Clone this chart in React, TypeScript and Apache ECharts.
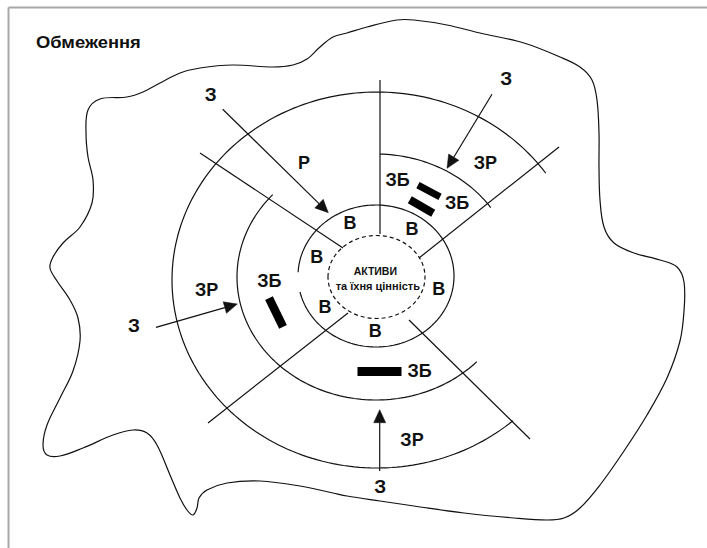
import React, { useEffect, useRef } from "react";
import * as echarts from "echarts";

const W = 707;
const H = 548;
const INK = "#111111";
const FONT = "'Liberation Sans', Arial, sans-serif";

// Ring geometry: [cx, cy, rx, ry]
const dashedRing = [376.5, 277, 48.5, 41.5];
const innerRing = [376, 276, 78, 71];
const middleRing = [376, 277, 139, 123];
const outerRing = [377, 280, 205, 188];

// Arc spans in degrees (screen, clockwise)
const innerArcs = [[183, 527]];
const middleArcs = [[-88.4, -34.4], [43.5, 222]];
const outerArcs = [[48.5, 325.4]];

// Radial dividing lines [x1, y1, x2, y2]
const radialLines = [
  [380, 80, 380, 234],
  [200, 153, 343, 248],
  [559, 147, 419, 258],
  [208, 423, 348, 313],
  [409, 320, 530, 439],
];

// Threat arrows [fromX, fromY, tipX, tipY]
const arrows = [
  [222.7, 109.3, 328.3, 212.7],
  [492, 94.3, 447, 168.3],
  [156, 327.3, 237.3, 304],
  [379.7, 471, 379.7, 409.7],
];

// Labels [text, x, y]
const threatLabels = [
  ["З", 210.7, 94],
  ["З", 506.3, 78.3],
  ["З", 134, 325.3],
  ["З", 380.3, 486.3],
];
const riskLabels = [
  ["Р", 304, 162.7],
  ["ЗР", 485.3, 162.7],
  ["ЗР", 206.7, 289.7],
  ["ЗР", 412, 439.7],
];
const weakLabels = [
  ["ЗБ", 397.5, 180],
  ["ЗБ", 457, 202.5],
  ["ЗБ", 269.3, 281.3],
  ["ЗБ", 419.5, 370.5],
];
const vulnLabels = [
  ["В", 350, 223.3],
  ["В", 316.7, 256.7],
  ["В", 412, 229.3],
  ["В", 438.7, 288.7],
  ["В", 375.3, 331.3],
  ["В", 325, 306.5],
];
const assetLines = [
  ["АКТИВИ", 375.3, 270.7],
  ["та їхня цінність", 377.8, 286],
];
const titleText = "Обмеження";

// Safeguard bars [cx, cy, length, thickness, angleDeg]
const bars = [
  [429, 191, 25, 7, 28],
  [421.5, 206.5, 27, 8, 30],
  [276, 312.5, 32, 8.5, 64],
  [379.5, 371.5, 44, 9, 0],
];

// Boundary blob outline
const blob = [
  [347, 33], [367, 27], [397, 20], [414, 20], [447, 25], [480, 33], [524, 43],
  [560, 57], [580, 67], [592, 80], [597, 100], [599, 133], [599, 167], [600, 200],
  [604, 227], [614, 243], [634, 253], [660, 260], [677, 267], [684, 282],
  [684, 311], [680, 341], [667, 378], [647, 415], [624, 451], [600, 485],
  [580, 508], [564, 518], [547, 520], [514, 518], [464, 513], [414, 506],
  [380, 501], [347, 496], [333, 493], [300, 486], [260, 481], [227, 483],
  [207, 490], [199, 498], [197, 508], [193, 515], [187, 510], [180, 498],
  [170, 475], [157, 445], [147, 433], [133, 430], [113, 435], [83, 448],
  [60, 456], [47, 455], [43, 445], [47, 425], [60, 398], [73, 371], [80, 341],
  [78, 318], [70, 300], [57, 281], [50, 268], [53, 257], [63, 243], [80, 227],
  [92, 203], [93, 180], [88, 157], [86, 133], [88, 110], [100, 99], [127, 97],
  [143, 92], [160, 83], [180, 73], [200, 68], [233, 65], [273, 67], [293, 65],
  [307, 59], [320, 47], [333, 37],
];

function arcPoints(ring: number[], t0: number, t1: number) {
  const [cx, cy, rx, ry] = ring;
  const pts: number[][] = [];
  const n = Math.max(8, Math.ceil(Math.abs(t1 - t0) / 1.5));
  for (let i = 0; i <= n; i++) {
    const t = ((t0 + ((t1 - t0) * i) / n) * Math.PI) / 180;
    pts.push([cx + rx * Math.cos(t), cy + ry * Math.sin(t)]);
  }
  return pts;
}

function textEl(t: any[], size: number, extra: any = {}) {
  return {
    type: "text",
    x: t[1],
    y: t[2],
    style: {
      text: t[0],
      fontSize: size,
      fontWeight: "bold",
      fontFamily: FONT,
      fill: INK,
      align: "center",
      verticalAlign: "middle",
      ...extra,
    },
  };
}

export default function App() {
  const ref = useRef<HTMLDivElement>(null);
  useEffect(() => {
    if (!ref.current) return;
    const chart = echarts.init(ref.current, null, { renderer: "svg" });
    const lineStyle = { stroke: INK, lineWidth: 1.2, fill: "none" };
    const els: any[] = [];

    els.push({
      type: "rect",
      shape: { x: 0, y: 0, width: W, height: H },
      style: { fill: "#ffffff" },
    });
    // frame (top & left)
    els.push({ type: "line", shape: { x1: 8.5, y1: 7.5, x2: W, y2: 7.5 }, style: { stroke: "#a8a8a8", lineWidth: 2 } });
    els.push({ type: "line", shape: { x1: 8.5, y1: 7.5, x2: 8.5, y2: H }, style: { stroke: "#a8a8a8", lineWidth: 2 } });

    // blob
    els.push({
      type: "polygon",
      shape: { points: blob, smooth: 0.35 },
      style: { ...lineStyle },
    });

    // rings
    els.push({
      type: "ellipse",
      shape: { cx: dashedRing[0], cy: dashedRing[1], rx: dashedRing[2], ry: dashedRing[3] },
      style: { ...lineStyle, lineDash: [4, 3] },
    });
    const ringArcs: [number[], number[][]][] = [
      [innerRing, innerArcs],
      [middleRing, middleArcs],
      [outerRing, outerArcs],
    ];
    ringArcs.forEach(([ring, arcs]) => {
      arcs.forEach(([a, b]) => {
        els.push({ type: "polyline", shape: { points: arcPoints(ring, a, b) }, style: { ...lineStyle } });
      });
    });

    // radial lines
    radialLines.forEach(([x1, y1, x2, y2]) => {
      els.push({ type: "line", shape: { x1, y1, x2, y2 }, style: { ...lineStyle } });
    });

    // arrows
    const headLen = 13;
    const headHalf = 6;
    arrows.forEach(([x1, y1, x2, y2]) => {
      const dx = x2 - x1;
      const dy = y2 - y1;
      const L = Math.hypot(dx, dy);
      const ux = dx / L;
      const uy = dy / L;
      const bx = x2 - ux * headLen;
      const by = y2 - uy * headLen;
      els.push({ type: "line", shape: { x1, y1, x2: bx, y2: by }, style: { ...lineStyle } });
      els.push({
        type: "polygon",
        shape: {
          points: [
            [x2, y2],
            [bx - uy * headHalf, by + ux * headHalf],
            [bx + uy * headHalf, by - ux * headHalf],
          ],
        },
        style: { fill: INK, stroke: INK, lineWidth: 0.5 },
      });
    });

    // bars
    bars.forEach(([cx, cy, len, th, ang]) => {
      els.push({
        type: "rect",
        x: cx,
        y: cy,
        rotation: (-ang * Math.PI) / 180,
        shape: { x: -len / 2, y: -th / 2, width: len, height: th },
        style: { fill: "#000" },
      });
    });

    // texts
    els.push({
      type: "text",
      x: 36,
      y: 42,
      scaleX: 1.08,
      style: {
        text: titleText,
        fontSize: 17,
        fontWeight: "bold",
        fontFamily: FONT,
        fill: INK,
        align: "left",
        verticalAlign: "middle",
      },
    });
    threatLabels.forEach((t) => els.push(textEl(t, 19)));
    riskLabels.forEach((t) => els.push(textEl(t, 18)));
    weakLabels.forEach((t) => els.push(textEl(t, 18)));
    vulnLabels.forEach((t) => els.push(textEl(t, 18)));
    els.push(textEl(assetLines[0], 10.5));
    els.push(textEl(assetLines[1], 11));

    chart.setOption({
      animation: false,
      graphic: { elements: els },
    });
    return () => chart.dispose();
  }, []);
  return (
    <div
      ref={ref}
      style={{ position: "fixed", left: 0, top: 0, width: W, height: H, background: "#fff" }}
    />
  );
}
